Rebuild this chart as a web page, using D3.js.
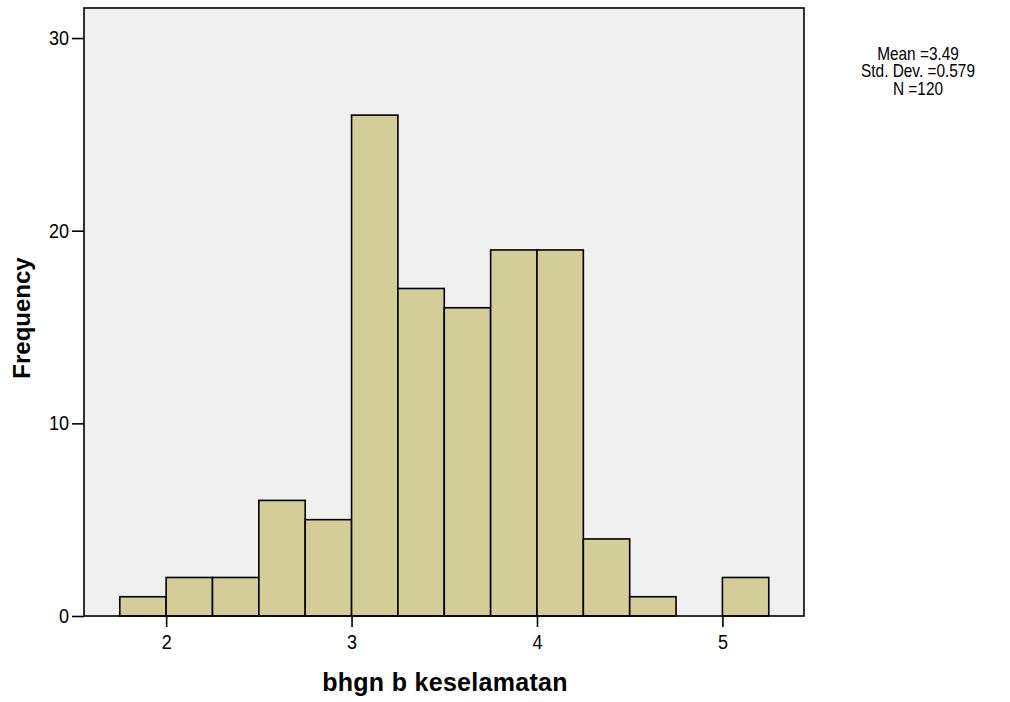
<!DOCTYPE html>
<html><head><meta charset="utf-8">
<script src="https://cdn.jsdelivr.net/npm/d3@7/dist/d3.min.js"></script>
<style>body{margin:0;background:#fff}svg{display:block}text{font-family:"Liberation Sans",Arial,sans-serif}</style>
</head><body>
<svg id="c" width="1010" height="702"></svg>
<script>
const binStarts = [1.75,2.0,2.25,2.5,2.75,3.0,3.25,3.5,3.75,4.0,4.25,4.5,4.75,5.0];
const binWidth = 0.25;
const counts = [1,2,2,6,5,26,17,16,19,19,4,1,0,2];
const xTicks = [2,3,4,5];
const yTicks = [0,10,20,30];
const statsLines = ["Mean =3.49","Std. Dev. =0.579","N =120"];
const xTitle = "bhgn b keselamatan";
const yTitle = "Frequency";

const svg = d3.select("#c");
const L=84, R=804, T=8, B=616;
const x = d3.scaleLinear().domain([1.557,5.44]).range([L,R]);
const y = d3.scaleLinear().domain([0,31.56]).range([B,T]);

svg.append("rect").attr("x",L).attr("y",T).attr("width",R-L).attr("height",B-T).attr("fill","#f0f0f0");

svg.append("g").selectAll("rect").data(counts.map((c,i)=>({s:binStarts[i],c}))).join("rect")
  .filter(d=>d.c>0)
  .attr("x",d=>x(d.s)).attr("width",d=>x(d.s+binWidth)-x(d.s))
  .attr("y",d=>y(d.c)).attr("height",d=>y(0)-y(d.c))
  .attr("fill","#d3ce97").attr("stroke","#000").attr("stroke-width",1.6);

svg.append("rect").attr("x",L).attr("y",T).attr("width",R-L).attr("height",B-T).attr("fill","none").attr("stroke","#000").attr("stroke-width",1.6);

const sx = 0.88;
const xa = svg.append("g").attr("transform",`translate(0,${B})`).call(d3.axisBottom(x).tickValues(xTicks).tickSize(11).tickPadding(7).tickFormat(d3.format("d")));
const ya = svg.append("g").attr("transform",`translate(${L},0)`).call(d3.axisLeft(y).tickValues(yTicks).tickSize(12).tickPadding(3).tickFormat(d3.format("d")));
[xa,ya].forEach(a=>{a.select(".domain").remove();a.selectAll("line").attr("stroke","#000").attr("stroke-width",1.6);
  a.selectAll("text").attr("font-size",20.5).attr("fill","#000").style("font-family","Liberation Sans, Arial, sans-serif").attr("transform",`scale(${sx},1)`);});
ya.selectAll("text").attr("x",-15/sx);

svg.append("text").attr("x",445).attr("y",691).attr("text-anchor","middle").attr("font-size",25).attr("letter-spacing",0.3).attr("font-weight","bold").text(xTitle);
svg.append("text").attr("transform","translate(30,318) rotate(-90)").attr("text-anchor","middle").attr("font-size",24).attr("font-weight","bold").text(yTitle);

svg.append("g").selectAll("text").data(statsLines).join("text")
  .attr("transform",(d,i)=>`translate(918,${59.5+i*17.5}) scale(0.88,1)`).attr("text-anchor","middle").attr("font-size",17.5).text(d=>d);
</script>
</body></html>
